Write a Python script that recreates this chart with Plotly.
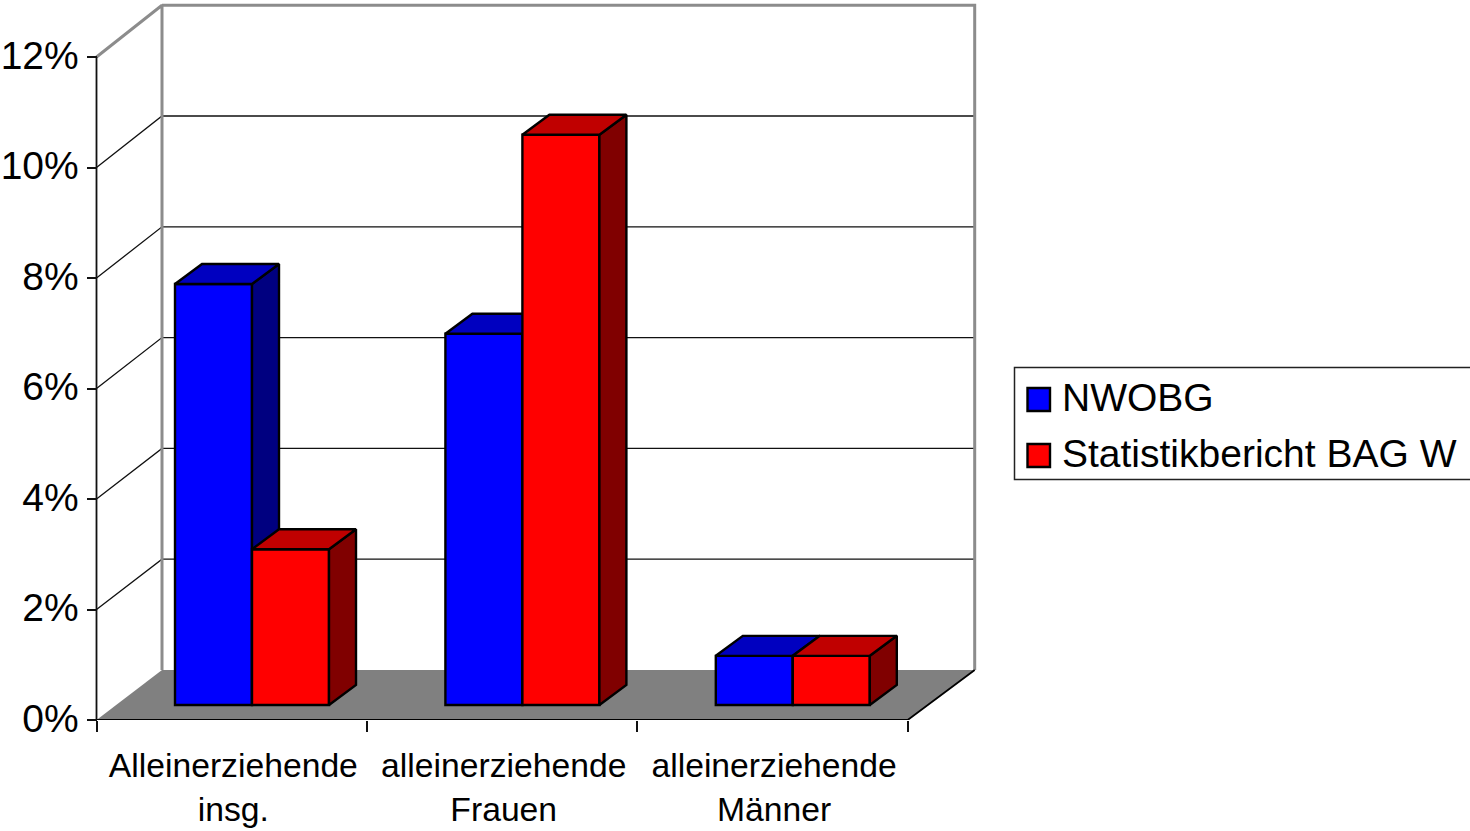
import plotly.graph_objects as go

# Chart data (percent)
categories = ["Alleinerziehende<br>insg.", "alleinerziehende<br>Frauen", "alleinerziehende<br>Männer"]
series_names = ["NWOBG", "Statistikbericht BAG W"]
nwobg = [7.62, 6.72, 0.89]
bag_w = [2.82, 10.32, 0.89]
y_ticks = [0, 2, 4, 6, 8, 10, 12]
y_tick_labels = ["0%", "2%", "4%", "6%", "8%", "10%", "12%"]

# Figure and plot-box geometry in pixels
FIG_W, FIG_H = 1470, 831
PLOT_LEFT, AXIS_X, RIGHT, BOTTOM, TOP = 88, 96.5, 980, 720, 2
SLOT_PX = 270.4
UNIT_PX = 55.25

# Oblique projection constants, in axis units
WALL_DX_LEFT, WALL_DX_RIGHT, WALL_DY = 65.5 / SLOT_PX, 67 / SLOT_PX, 50 / UNIT_PX
BACK_SCALE = 1.0027
BAR_BASE = 15 / UNIT_PX
BAR_DX, BAR_DY = 27 / SLOT_PX, 20 / UNIT_PX
BAR_WIDTH = 77 / SLOT_PX
GROUP_CENTER = 155.5 / SLOT_PX
LABEL_SHIFT = 0.006

FLOOR = "#808080"
WALL = "#8c8c8c"
FRONT = ["#0000ff", "#ff0000"]
TOP_FACE = ["#0000c0", "#c00000"]
SIDE_FACE = ["#000080", "#800000"]
EDGE_WIDTH = 2.4

FONT = "Liberation Sans, Arial, sans-serif"
N = len(categories)


def back(v):
    return v * BACK_SCALE + WALL_DY


def line(xs, ys, color="#000000", width=1.0, yaxis="y"):
    return go.Scatter(x=xs, y=ys, mode="lines", yaxis=yaxis, cliponaxis=False,
                      line=dict(color=color, width=width), hoverinfo="skip", showlegend=False)


def face(xs, ys, color, yaxis):
    return go.Scatter(x=xs, y=ys, mode="lines", fill="toself", fillcolor=color, yaxis=yaxis,
                      cliponaxis=False, line=dict(color="#000000", width=EDGE_WIDTH),
                      hoverinfo="skip", showlegend=False)


fig = go.Figure()

# Floor of the chart box
fig.add_trace(go.Scatter(x=[0, WALL_DX_LEFT, N + WALL_DX_RIGHT, N, 0],
                         y=[0, back(0), back(0), 0, 0],
                         mode="lines", fill="toself", fillcolor=FLOOR, cliponaxis=False,
                         line=dict(color=FLOOR, width=0), hoverinfo="skip", showlegend=False))

# Gridlines: slanted across the side wall, then level along the back wall
for v in y_ticks[1:-1]:
    fig.add_trace(line([0, WALL_DX_LEFT, N + WALL_DX_RIGHT], [v, back(v), back(v)], "#111111", 1.3))

# Grey frame of the back wall
top_v = y_ticks[-1]
fig.add_trace(line([0, WALL_DX_LEFT, WALL_DX_LEFT], [top_v, back(top_v), back(0)], WALL, 3))
fig.add_trace(line([WALL_DX_LEFT, N + WALL_DX_RIGHT, N + WALL_DX_RIGHT],
                   [back(top_v), back(top_v), back(0)], WALL, 3))

# Front axis lines and floor edge
fig.add_trace(line([0, 0], [0, top_v], "#111111", 1.8))
fig.add_trace(line([0, N, N + WALL_DX_RIGHT], [0, 0, back(0)], "#000000", 1.8))

# One overlay per series, so that the second series covers the side of the first
for s, values in enumerate([nwobg, bag_w]):
    axis = f"y{s + 2}"
    lefts = [i + GROUP_CENTER + (s - 1) * BAR_WIDTH for i in range(N)]
    fig.add_trace(go.Bar(x=[l + BAR_WIDTH / 2 for l in lefts], y=values, base=BAR_BASE,
                         width=BAR_WIDTH, yaxis=axis, name=series_names[s],
                         marker=dict(color=FRONT[s], line=dict(color="#000000", width=EDGE_WIDTH)),
                         showlegend=False))
    for l, v in zip(lefts, values):
        r = l + BAR_WIDTH
        t = v + BAR_BASE
        fig.add_trace(face([r, r + BAR_DX, r + BAR_DX, r, r],
                           [BAR_BASE, BAR_BASE + BAR_DY, t + BAR_DY, t, BAR_BASE],
                           SIDE_FACE[s], axis))
        fig.add_trace(face([l, l + BAR_DX, r + BAR_DX, r, l],
                           [t, t + BAR_DY, t + BAR_DY, t, t],
                           TOP_FACE[s], axis))

y_range = [0, (BOTTOM - TOP) / UNIT_PX]
x_domain = [PLOT_LEFT / FIG_W, RIGHT / FIG_W]
y_domain = [(FIG_H - BOTTOM) / FIG_H, (FIG_H - TOP) / FIG_H]
hidden_y = dict(overlaying="y", range=y_range, domain=y_domain, visible=False, fixedrange=True)

fig.update_layout(
    width=FIG_W, height=FIG_H, autosize=False,
    margin=dict(l=0, r=0, t=0, b=0),
    paper_bgcolor="white", plot_bgcolor="white",
    barmode="overlay", showlegend=False,
    font=dict(family=FONT, color="#000000"),
    xaxis=dict(domain=x_domain, range=[(PLOT_LEFT - AXIS_X) / SLOT_PX, (RIGHT - AXIS_X) / SLOT_PX],
               tickmode="array", tickvals=[i + 0.5 + LABEL_SHIFT for i in range(N)], ticktext=categories,
               ticks="outside", ticklen=16, tickcolor="rgba(0,0,0,0)",
               tickfont=dict(size=33.7, family=FONT, color="#000000"),
               tickangle=0, showgrid=False, zeroline=False, showline=False, automargin=False,
               minor=dict(tickmode="linear", tick0=0, dtick=1, ticks="outside", ticklen=11,
                          tickcolor="#111111", tickwidth=1.5, showgrid=False)),
    yaxis=dict(domain=y_domain, range=y_range, anchor="free", position=AXIS_X / FIG_W,
               tickmode="array", tickvals=y_ticks, ticktext=y_tick_labels,
               ticks="outside", ticklen=10, tickcolor="#111111", tickwidth=1.5,
               ticklabelshift=-2,
               tickfont=dict(size=39, family=FONT, color="#000000"),
               showgrid=False, zeroline=False, showline=False, automargin=False),
    yaxis2=hidden_y,
    yaxis3=hidden_y,
)


# Legend box, drawn in page pixels
def px(x):
    return x / FIG_W


def py(y):
    return 1 - y / FIG_H


fig.add_shape(type="rect", xref="paper", yref="paper", x0=px(1014.5), x1=px(1472), y0=py(367.5), y1=py(479.5),
              line=dict(color="#222222", width=1.5), fillcolor="white")
for s, (name, top) in enumerate(zip(series_names, [388, 444])):
    fig.add_shape(type="rect", xref="paper", yref="paper", x0=px(1027.5), x1=px(1050), y0=py(top), y1=py(top + 23),
                  line=dict(color="#000000", width=2.4), fillcolor=FRONT[s])
    fig.add_annotation(text=name, xref="paper", yref="paper", x=px(1060), y=py(top + 9.5),
                       xanchor="left", yanchor="middle", showarrow=False,
                       font=dict(size=39, family=FONT, color="#000000"))

fig.write_html("out.html")
